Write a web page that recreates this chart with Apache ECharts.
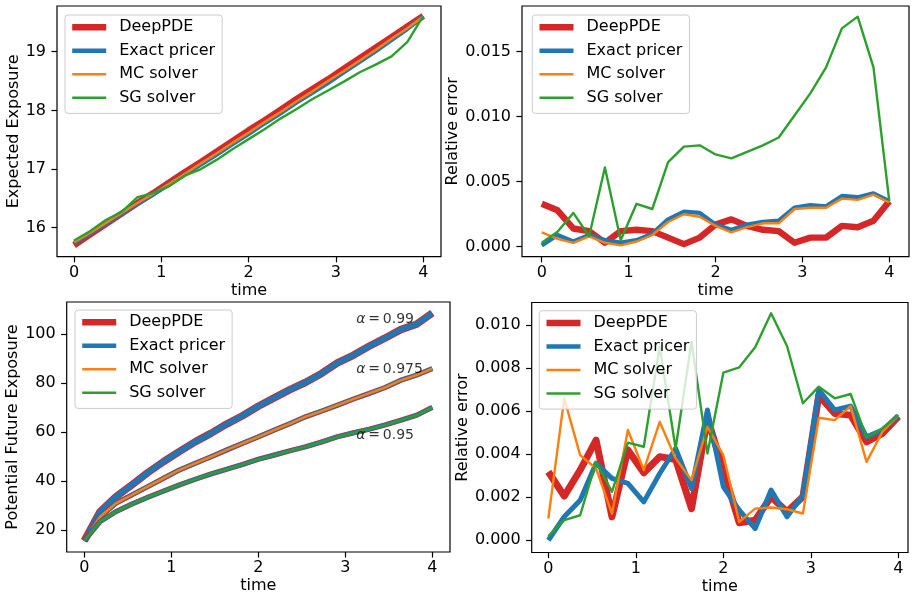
<!DOCTYPE html>
<html>
<head>
<meta charset="utf-8">
<script src="https://cdn.jsdelivr.net/npm/echarts@6/dist/echarts.min.js"></script>
<style>
html,body{margin:0;padding:0;background:#fff;}
#chart{width:912px;height:596px;}
</style>
</head>
<body>
<div id="chart"></div>
<script>
// ---------- data ----------
const time = [0, 0.1818, 0.3636, 0.5455, 0.7273, 0.9091, 1.0909, 1.2727, 1.4545, 1.6364, 1.8182, 2.0,
  2.1818, 2.3636, 2.5455, 2.7273, 2.9091, 3.0909, 3.2727, 3.4545, 3.6364, 3.8182, 4.0];
const xTicks = [0, 1, 2, 3, 4];
const names = ['DeepPDE', 'Exact pricer', 'MC solver', 'SG solver'];

// Expected Exposure (top-left)
const eeDeep  = [15.70, 15.88, 16.06, 16.24, 16.42, 16.59, 16.77, 16.95, 17.12, 17.30, 17.48, 17.66, 17.83, 18.01, 18.19, 18.36, 18.53, 18.71, 18.89, 19.07, 19.25, 19.43, 19.61];
const eeExact = [15.74, 15.90, 16.07, 16.24, 16.41, 16.57, 16.74, 16.91, 17.08, 17.25, 17.43, 17.60, 17.78, 17.95, 18.13, 18.30, 18.47, 18.65, 18.83, 19.01, 19.20, 19.39, 19.60];
const eeMC    = [15.75, 15.91, 16.08, 16.25, 16.42, 16.58, 16.75, 16.92, 17.10, 17.27, 17.45, 17.62, 17.80, 17.97, 18.15, 18.32, 18.50, 18.67, 18.85, 19.03, 19.22, 19.40, 19.60];
const eeSG    = [15.78, 15.94, 16.13, 16.27, 16.52, 16.59, 16.71, 16.89, 17.00, 17.16, 17.34, 17.51, 17.68, 17.86, 18.02, 18.19, 18.34, 18.49, 18.65, 18.78, 18.92, 19.17, 19.61];
const eeTicks = [16, 17, 18, 19];

// Relative error of EE (top-right)
const reeDeep  = [0.0033, 0.0028, 0.0014, 0.0012, 0.0003, 0.0012, 0.0013, 0.0012, 0.0007, 0.0002, 0.0007, 0.0017, 0.0021, 0.0016, 0.0013, 0.0012, 0.0003, 0.0007, 0.0007, 0.0016, 0.0015, 0.0020, 0.0035];
const reeExact = [0.0001, 0.0009, 0.0004, 0.0009, 0.0005, 0.0003, 0.0005, 0.0010, 0.0021, 0.0027, 0.0026, 0.0017, 0.0013, 0.0017, 0.0019, 0.0020, 0.0030, 0.0032, 0.0031, 0.0039, 0.0038, 0.0041, 0.0035];
const reeMC    = [0.0011, 0.0006, 0.0003, 0.0008, 0.0003, 0.0001, 0.0004, 0.0009, 0.0019, 0.0025, 0.0023, 0.0016, 0.0011, 0.0015, 0.0018, 0.0018, 0.0029, 0.0030, 0.0030, 0.0037, 0.0036, 0.0040, 0.0034];
const reeSG    = [0.0003, 0.00115, 0.0026, 0.0008, 0.0061, 0.0005, 0.0033, 0.0029, 0.0065, 0.0077, 0.0078, 0.0071, 0.0068, 0.0073, 0.0078, 0.0084, 0.0101, 0.0118, 0.0138, 0.0168, 0.0177, 0.0138, 0.0035];
const reeTicks = [0, 0.005, 0.010, 0.015];

// Potential Future Exposure (bottom-left)
const pfe99  = [15.6, 27.5, 33.6, 38.4, 43.4, 47.9, 52.0, 56.0, 59.5, 63.3, 66.7, 70.6, 74.0, 77.4, 80.4, 84.0, 88.3, 91.4, 95.1, 98.4, 101.9, 104.1, 108.7];
const pfe975 = [15.6, 25.4, 30.9, 34.3, 37.7, 41.1, 44.5, 47.2, 49.9, 52.7, 55.4, 58.1, 60.8, 63.5, 66.3, 68.6, 71.0, 73.5, 75.8, 78.2, 81.2, 83.3, 86.0];
const pfe95  = [15.6, 23.4, 27.5, 30.6, 33.3, 35.9, 38.4, 40.7, 42.9, 44.8, 46.8, 48.9, 50.6, 52.4, 54.0, 56.0, 58.1, 59.7, 61.2, 62.9, 64.9, 66.9, 70.1];
const pfeTicks = [20, 40, 60, 80, 100];
const annoX = [3.12, 3.12, 3.12];
const annoY = [106.3, 85.8, 58.6];
const annoText = ['0.99', '0.975', '0.95'];

// Relative error of PFE (bottom-right)
const rpDeep  = [0.00318, 0.00205, 0.00326, 0.00465, 0.00109, 0.00419, 0.00313, 0.00388, 0.00375, 0.00147, 0.00566, 0.00326, 0.00081, 0.00093, 0.00202, 0.00132, 0.00202, 0.00674, 0.00589, 0.00581, 0.00457, 0.00496, 0.00574];
const rpExact = [0.00000, 0.00109, 0.00186, 0.00357, 0.00287, 0.00264, 0.00178, 0.00310, 0.00426, 0.00240, 0.00605, 0.00248, 0.00140, 0.00054, 0.00233, 0.00109, 0.00209, 0.00698, 0.00605, 0.00623, 0.00480, 0.00512, 0.00577];
const rpMC    = [0.00101, 0.00659, 0.00395, 0.00333, 0.00124, 0.00512, 0.00326, 0.00550, 0.00380, 0.00279, 0.00527, 0.00395, 0.00085, 0.00147, 0.00152, 0.00144, 0.00124, 0.00569, 0.00558, 0.00623, 0.00364, 0.00504, 0.00581];
const rpSG    = [0.00019, 0.00093, 0.00116, 0.00364, 0.00225, 0.00453, 0.00434, 0.00899, 0.00426, 0.00922, 0.00403, 0.00778, 0.00803, 0.00896, 0.01054, 0.00902, 0.00636, 0.00713, 0.00659, 0.00679, 0.00478, 0.00519, 0.00581];
const rpTicks = [0, 0.002, 0.004, 0.006, 0.008, 0.010];

// ---------- styling ----------
const FONT = 'DejaVu Sans';
const C = {red: '#d62728', blue: '#1f77b4', orange: '#ff7f0e', green: '#2ca02c'};
const pairs = ys => time.map((t, i) => [t, ys[i]]);

const grids = [
  {left: 57,    top: 6,     width: 384,   height: 250.7},
  {left: 522,   top: 6,     width: 387,   height: 250.7},
  {left: 66.7,  top: 302,   width: 383.3, height: 250},
  {left: 531.7, top: 302.5, width: 376.3, height: 250}
];
const xRange = [[-0.195, 4.203], [-0.227, 4.227], [-0.202, 4.203], [-0.19, 4.11]];
const yRange = [[15.505, 19.78], [-0.00077, 0.01852], [11.0, 113.2], [-0.00057, 0.01104]];
const yTicks = [eeTicks, reeTicks, pfeTicks, rpTicks];
const yNames = ['Expected Exposure', 'Relative error', 'Potential Future Exposure', 'Relative error'];
const yGaps = [34, 55, 44, 58];
const yFmt = [v => String(v), v => v.toFixed(3), v => String(v), v => v.toFixed(3)];
const legendPos = [[65, 15], [532.3, 15], [75, 310], [539.3, 310.7]];

const tickStyle = {show: true, inside: false, length: 5.6, lineStyle: {color: '#000', width: 1.2}};

const option = {
  animation: false,
  backgroundColor: '#fff',
  textStyle: {fontFamily: FONT},
  grid: grids.map(g => Object.assign({show: true, borderColor: '#000', borderWidth: 1.2, backgroundColor: 'transparent', containLabel: false}, g)),
  xAxis: grids.map((g, i) => ({
    type: 'value', gridIndex: i, min: xRange[i][0], max: xRange[i][1],
    name: 'time', nameLocation: 'middle', nameGap: 26,
    nameTextStyle: {fontFamily: FONT, fontSize: 16, color: '#000'},
    axisLine: {show: false, onZero: false},
    axisTick: Object.assign({customValues: xTicks}, tickStyle),
    axisLabel: {customValues: xTicks, margin: 8, fontFamily: FONT, fontSize: 16, color: '#000'},
    splitLine: {show: false}
  })),
  yAxis: grids.map((g, i) => ({
    type: 'value', gridIndex: i, min: yRange[i][0], max: yRange[i][1],
    name: yNames[i], nameLocation: 'middle', nameGap: yGaps[i],
    nameTextStyle: {fontFamily: FONT, fontSize: 16, color: '#000'},
    axisLine: {show: false, onZero: false},
    axisTick: Object.assign({customValues: yTicks[i]}, tickStyle),
    axisLabel: {customValues: yTicks[i], margin: 11, fontFamily: FONT, fontSize: 16, color: '#000', formatter: yFmt[i]},
    splitLine: {show: false}
  })),
  legend: legendPos.map(p => ({
    data: names, orient: 'vertical', left: p[0], top: p[1],
    padding: [4.3, 7, 7.6, 4], itemGap: 7.5, itemWidth: 34, itemHeight: 14,
    backgroundColor: 'rgba(255,255,255,0.8)', borderColor: '#cccccc', borderWidth: 1, borderRadius: 3,
    textStyle: {fontFamily: FONT, fontSize: 16, color: '#000', lineHeight: 16, padding: [0, 0, 0, 8]},
    lineStyle: {width: 'inherit'},
    itemStyle: {opacity: 0, borderWidth: 0},
    selectedMode: false
  })),
  series: []
};

function line(name, grid, ys, color, width, z) {
  return {
    type: 'line', name: name, xAxisIndex: grid, yAxisIndex: grid, data: pairs(ys),
    symbol: 'none', showSymbol: false, z: z || 2,
    lineStyle: {color: color, width: width, join: 'round', cap: 'butt'},
    itemStyle: {color: color},
    emphasis: {disabled: true}
  };
}

option.series.push(
  line('DeepPDE', 0, eeDeep, C.red, 6.4),
  line('Exact pricer', 0, eeExact, C.blue, 4.4),
  line('MC solver', 0, eeMC, C.orange, 2.4),
  line('SG solver', 0, eeSG, C.green, 2.4),

  line('DeepPDE', 1, reeDeep, C.red, 6.4),
  line('Exact pricer', 1, reeExact, C.blue, 4.4),
  line('MC solver', 1, reeMC, C.orange, 2.4),
  line('SG solver', 1, reeSG, C.green, 2.4),

  line('DeepPDE', 2, pfe99, C.red, 7.5),
  line('Exact pricer', 2, pfe99, C.blue, 5.6),
  line('DeepPDE', 2, pfe975, C.red, 5.2),
  line('Exact pricer', 2, pfe975, C.blue, 4.2),
  line('MC solver', 2, pfe975, C.orange, 2.4),
  line('DeepPDE', 2, pfe95, C.red, 5.2),
  line('Exact pricer', 2, pfe95, C.blue, 4.2),
  line('SG solver', 2, pfe95, C.green, 2.4),

  line('DeepPDE', 3, rpDeep, C.red, 7),
  line('Exact pricer', 3, rpExact, C.blue, 5),
  line('MC solver', 3, rpMC, C.orange, 2.4),
  line('SG solver', 3, rpSG, C.green, 2.4)
);

option.series.push({
  type: 'scatter', name: 'alpha labels', xAxisIndex: 2, yAxisIndex: 2, z: 5,
  symbolSize: 1, itemStyle: {color: 'rgba(0,0,0,0)'},
  data: annoX.map((x, i) => [x, annoY[i], annoText[i]]),
  label: {
    show: true, position: 'right', distance: 0,
    formatter: p => '{a|α}\u2009=\u2009' + p.value[2],
    fontFamily: FONT, fontSize: 14, color: '#000',
    rich: {a: {fontFamily: FONT, fontSize: 14, fontStyle: 'italic', color: '#000'}}
  },
  emphasis: {disabled: true}, silent: true
});

const chart = echarts.init(document.getElementById('chart'), null, {renderer: 'canvas'});
chart.setOption(option);
</script>
</body>
</html>
